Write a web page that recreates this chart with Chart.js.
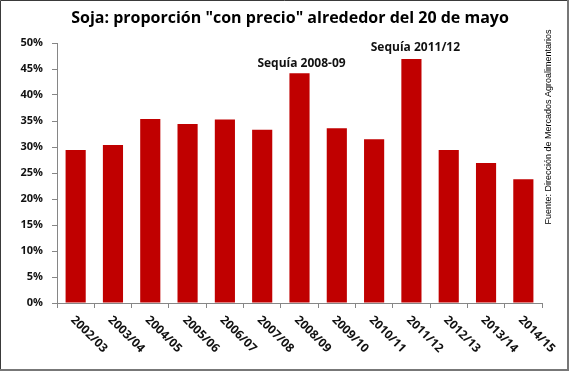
<!DOCTYPE html>
<html>
<head>
<meta charset="utf-8">
<script src="https://cdn.jsdelivr.net/npm/chart.js@4/dist/chart.umd.min.js"></script>
<style>
html,body{margin:0;padding:0;background:#fff;}
#wrap{width:569px;height:371px;position:relative;}
</style>
</head>
<body>
<div id="wrap"><canvas id="c" width="569" height="371"></canvas></div>
<script>
const titleText = 'Soja: proporción "con precio" alrededor del 20 de mayo';
const sourceText = 'Fuente: Dirección de Mercados Agroalimentarios';
const categories = ['2002/03','2003/04','2004/05','2005/06','2006/07','2007/08','2008/09','2009/10','2010/11','2011/12','2012/13','2013/14','2014/15'];
const values = [29.4, 30.4, 35.4, 34.4, 35.3, 33.3, 44.2, 33.6, 31.5, 46.9, 29.4, 26.9, 23.8];
const yTicks = [0,5,10,15,20,25,30,35,40,45,50];
const annotIndex = [6, 9];
const annotText = ['Sequía 2008-09', 'Sequía 2011/12'];

const annotOffset = [[2,-10],[4,-12]];

const decor = {
  id:'decor',
  afterDraw(chart){
    const ctx = chart.ctx;
    const xs = chart.scales.x, ys = chart.scales.y;
    ctx.save();
    // title
    ctx.fillStyle = '#000';
    ctx.font = 'bold 16px "Open Sans"';
    ctx.textAlign = 'center';
    ctx.textBaseline = 'middle';
    ctx.fillText(titleText, 290, 18);
    // annotations
    ctx.font = 'bold 12px "Open Sans"';
    ctx.fillStyle = '#111';
    annotIndex.forEach((idx,i)=>{
      const x = xs.getPixelForValue(idx) + annotOffset[i][0];
      const y = ys.getPixelForValue(values[idx]) + annotOffset[i][1];
      ctx.fillText(annotText[i], x, y);
    });
    // x labels rotated clockwise
    ctx.font = 'bold 12px "Open Sans"';
    ctx.fillStyle = '#111';
    ctx.textAlign = 'left';
    categories.forEach((c,i)=>{
      const x = xs.getPixelForValue(i) - 3;
      const y = xs.top + 15;
      ctx.save();
      ctx.translate(x,y);
      ctx.rotate(Math.PI/4);
      ctx.fillText(c,0,0);
      ctx.restore();
    });
    // source text
    ctx.font = '9px "Liberation Sans"';
    ctx.fillStyle = '#000';
    ctx.textAlign = 'center';
    ctx.save();
    ctx.translate(549, 127);
    ctx.rotate(-Math.PI/2);
    ctx.fillText(sourceText,0,0);
    ctx.restore();
    // frame
    ctx.strokeStyle = '#3a3a3a';
    ctx.lineWidth = 1;
    ctx.beginPath();
    ctx.moveTo(0.5,371); ctx.lineTo(0.5,0.5); ctx.lineTo(568,0.5);
    ctx.stroke();
    ctx.strokeStyle = '#777';
    ctx.lineWidth = 2;
    ctx.beginPath();
    ctx.moveTo(568,0); ctx.lineTo(568,370); ctx.lineTo(0,370);
    ctx.stroke();
    ctx.restore();
  }
};

new Chart(document.getElementById('c'), {
  type:'bar',
  data:{
    labels: categories,
    datasets:[{
      data: values,
      backgroundColor:'#C00000',
      borderWidth:0,
      barPercentage:0.54,
      categoryPercentage:1.0
    }]
  },
  options:{
    responsive:false,
    animation:false,
    devicePixelRatio:1,
    layout:{padding:{left:0,top:43,right:27,bottom:0}},
    plugins:{legend:{display:false},tooltip:{enabled:false},title:{display:false}},
    scales:{
      x:{
        offset:true,
        grid:{display:true,drawOnChartArea:false,drawTicks:true,tickLength:5,color:'#868686',offset:true},
        border:{display:true,color:'#868686',width:1},
        ticks:{display:false},
        afterFit(s){ s.height = 371 - 303; }
      },
      y:{
        min:0,max:50,
        afterBuildTicks(s){ s.ticks = yTicks.map(v=>({value:v})); },
        grid:{display:true,drawOnChartArea:false,drawTicks:true,tickLength:5,color:'#868686'},
        border:{display:true,color:'#868686',width:1},
        ticks:{
          font:{family:'"Open Sans"',size:11,weight:'bold'},
          color:'#111',
          padding:9,
          callback:(v)=>v+'%'
        },
        afterFit(s){ s.width = 57; }
      }
    }
  },
  plugins:[decor]
});
</script>
</body>
</html>
